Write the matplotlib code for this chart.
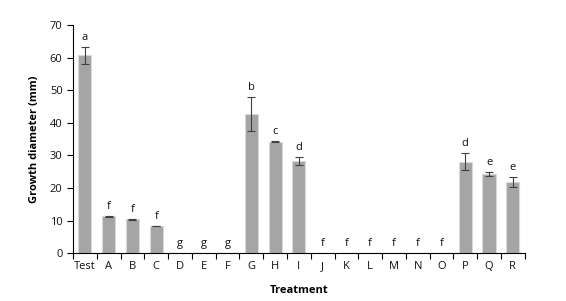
import matplotlib
matplotlib.use("Agg")
import matplotlib.pyplot as plt
import numpy as np

plt.rcParams['font.family'] = ['Open Sans', 'DejaVu Sans']

treatments = ['Test', 'A', 'B', 'C', 'D', 'E', 'F', 'G', 'H', 'I',
              'J', 'K', 'L', 'M', 'N', 'O', 'P', 'Q', 'R']
means = [60.7, 11.3, 10.4, 8.3, 0, 0, 0, 42.6, 34.2, 28.3,
         0, 0, 0, 0, 0, 0, 28.0, 24.4, 21.8]
errors = [2.6, 0.1, 0.1, 0.1, 0, 0, 0, 5.2, 0.1, 1.3,
          0, 0, 0, 0, 0, 0, 2.6, 0.6, 1.6]
letters = ['a', 'f', 'f', 'f', 'g', 'g', 'g', 'b', 'c', 'd',
           'f', 'f', 'f', 'f', 'f', 'f', 'd', 'e', 'e']

fig = plt.figure(figsize=(5.66, 3.01), dpi=100)
ax = fig.add_axes([0.129, 0.159, 0.798, 0.758])

x = np.arange(len(treatments))
ax.bar(x, means, width=0.55, color='#a5a5a5', edgecolor='#d9d9d9', linewidth=0.8)
ax.errorbar(x, means, yerr=[e if e > 0 else np.nan for e in errors], fmt='none',
            ecolor='#404040', elinewidth=0.8, capsize=3, capthick=0.8)

for xi, m, e, lab in zip(x, means, errors, letters):
    ax.text(xi, m + e + 1.2, lab, ha='center', va='bottom', fontsize=8, color='#111111')

ax.set_xlim(-0.5, len(treatments) - 0.5)
ax.set_ylim(0, 70)
ax.set_yticks(range(0, 71, 10))
ax.set_xticks(x)
ax.set_xticklabels(treatments, fontsize=8, color='#111111')
ax.set_xticks(np.arange(-0.5, len(treatments), 1), minor=True)
ax.tick_params(axis='x', which='major', length=0, pad=6)
ax.tick_params(axis='x', which='minor', length=4, width=0.8)
ax.tick_params(axis='y', labelsize=8, length=4, width=0.8, labelcolor='#111111')
for s in ['top', 'right']:
    ax.spines[s].set_visible(False)
for s in ['left', 'bottom']:
    ax.spines[s].set_linewidth(0.8)

ax.set_ylabel('Growth diameter (mm)', fontsize=8, fontweight='bold', labelpad=7)
ax.set_xlabel('Treatment', fontsize=8, fontweight='bold', labelpad=9)

fig.savefig('out.png', dpi=100)
